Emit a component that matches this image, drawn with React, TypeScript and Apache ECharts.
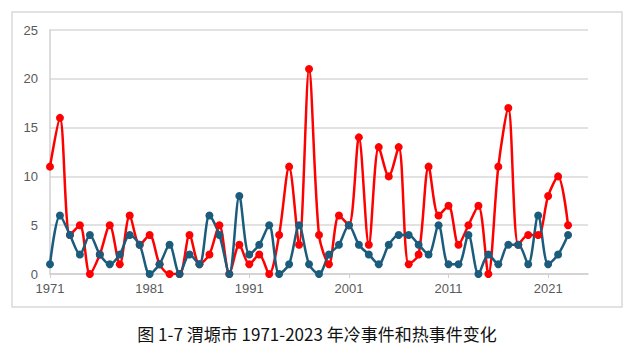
import React, { useEffect, useRef } from "react";
import * as echarts from "echarts";

const years = [
  "1971","1972","1973","1974","1975","1976","1977","1978","1979","1980",
  "1981","1982","1983","1984","1985","1986","1987","1988","1989","1990",
  "1991","1992","1993","1994","1995","1996","1997","1998","1999","2000",
  "2001","2002","2003","2004","2005","2006","2007","2008","2009","2010",
  "2011","2012","2013","2014","2015","2016","2017","2018","2019","2020",
  "2021","2022","2023","2024","2025",
];

const heatEvents = [
  11, 16, 4, 5, 0, 2, 5, 1, 6, 3,
  4, 1, 0, 0, 4, 1, 2, 5, 0, 3,
  1, 2, 0, 4, 11, 3, 21, 4, 1, 6,
  5, 14, 3, 13, 10, 13, 1, 2, 11, 6,
  7, 3, 5, 7, 0, 11, 17, 3, 4, 4,
  8, 10, 5,
];

const coldEvents = [
  1, 6, 4, 2, 4, 2, 1, 2, 4, 3,
  0, 1, 3, 0, 2, 1, 6, 4, 0, 8,
  2, 3, 5, 0, 1, 5, 1, 0, 2, 3,
  5, 3, 2, 1, 3, 4, 4, 3, 2, 5,
  1, 1, 4, 0, 2, 1, 3, 3, 1, 6,
  1, 2, 4,
];

const yTicks = { min: 0, max: 25, interval: 5 };
const caption = "图 1-7 渭塬市 1971-2023 年冷事件和热事件变化";

export default function App() {
  const ref = useRef<HTMLDivElement>(null);
  useEffect(() => {
    document.body.style.margin = "0";
    const chart = echarts.init(ref.current!, null, { renderer: "svg" });
    chart.setOption({
      animation: false,
      backgroundColor: "#ffffff",
      grid: { left: 50, right: 49, top: 30, bottom: 85 },
      graphic: [
        {
          type: "rect",
          shape: { x: 12, y: 12, width: 610, height: 295 },
          style: { fill: "none", stroke: "#d9d9d9", lineWidth: 1.5 },
          z: -1,
        },
        {
          type: "text",
          x: 317,
          y: 333,
          style: {
            text: caption,
            font: 'normal 17px "Noto Sans CJK SC"',
            fill: "#111111",
            align: "center",
            verticalAlign: "middle",
          },
        },
      ],
      xAxis: {
        type: "category",
        data: years,
        boundaryGap: false,
        axisLine: { show: true, lineStyle: { color: "#d0d0d0", width: 1.5 } },
        axisTick: { show: true, interval: 9, length: 4, lineStyle: { color: "#d0d0d0" } },
        axisLabel: {
          interval: 9,
          color: "#595959",
          fontSize: 13,
          fontFamily: "Liberation Sans",
          margin: 8,
        },
        splitLine: { show: false },
      },
      yAxis: {
        type: "value",
        min: yTicks.min,
        max: yTicks.max,
        interval: yTicks.interval,
        axisLine: { show: true, lineStyle: { color: "#d0d0d0", width: 1.5 } },
        axisTick: { show: false },
        axisLabel: {
          color: "#595959",
          fontSize: 13,
          fontFamily: "Liberation Sans",
          margin: 12,
        },
        splitLine: { show: true, lineStyle: { color: "#d9d9d9", width: 1.5 } },
      },
      series: [
        {
          name: "热事件",
          type: "line",
          data: heatEvents,
          smooth: 0.3,
          symbol: "circle",
          symbolSize: 8,
          showAllSymbol: true,
          lineStyle: { color: "#ff0000", width: 2.5 },
          itemStyle: { color: "#ff0000" },
        },
        {
          name: "冷事件",
          type: "line",
          data: coldEvents,
          smooth: 0.3,
          symbol: "circle",
          symbolSize: 8,
          showAllSymbol: true,
          lineStyle: { color: "#1b5c7c", width: 2.5 },
          itemStyle: { color: "#1b5c7c" },
        },
      ],
    });
    return () => chart.dispose();
  }, []);
  return <div ref={ref} style={{ width: 637, height: 359 }} />;
}
